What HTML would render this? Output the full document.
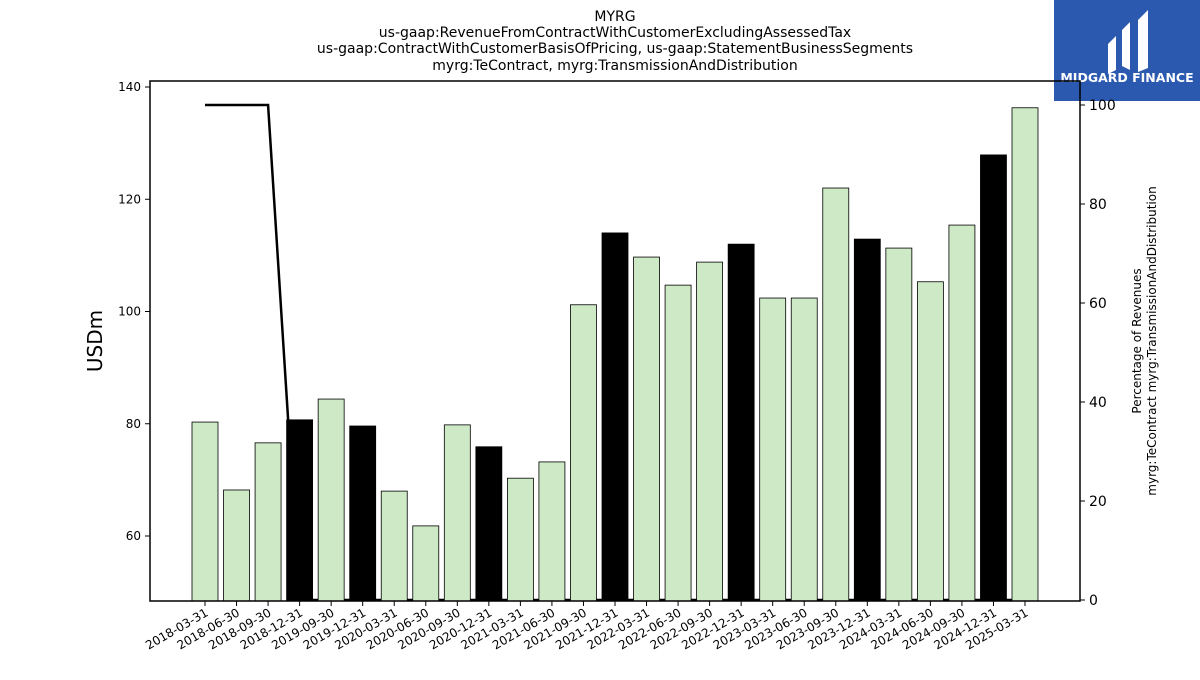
<!DOCTYPE html>
<html><head><meta charset="utf-8">
<style>
body{margin:0;background:#fff;font-family:"Liberation Sans","DejaVu Sans",sans-serif;}
svg text{font-family:"DejaVu Sans","Liberation Sans",sans-serif;}
</style></head>
<body>
<svg id="chart" width="1200" height="675" xmlns="http://www.w3.org/2000/svg">
<g font-size="14" text-anchor="middle" fill="#000">
<text x="615" y="21">MYRG</text>
<text x="615" y="37">us-gaap:RevenueFromContractWithCustomerExcludingAssessedTax</text>
<text x="615" y="53">us-gaap:ContractWithCustomerBasisOfPricing, us-gaap:StatementBusinessSegments</text>
<text x="615" y="70">myrg:TeContract, myrg:TransmissionAndDistribution</text>
</g>
<g>
<rect x="1054" y="0" width="146" height="101" fill="#2b59b0"/>
<path d="M1108,44 L1116,36 L1116,70 L1108,74 Z M1122,30 L1130,22 L1130,70 L1122,66 Z M1138,20 L1148,10 L1148,68 L1138,72 Z" fill="#fff"/>
<text x="1127" y="82" font-size="12.5" font-weight="bold" fill="#fff" text-anchor="middle">MIDGARD FINANCE</text>
</g>
<g id="plot"></g>
</svg>
<script>
const categories=["2018-03-31","2018-06-30","2018-09-30","2018-12-31","2019-09-30","2019-12-31","2020-03-31","2020-06-30","2020-09-30","2020-12-31","2021-03-31","2021-06-30","2021-09-30","2021-12-31","2022-03-31","2022-06-30","2022-09-30","2022-12-31","2023-03-31","2023-06-30","2023-09-30","2023-12-31","2024-03-31","2024-06-30","2024-09-30","2024-12-31","2025-03-31"];
const revenue=[80.3,68.2,76.6,80.7,84.4,79.6,68.0,61.8,79.8,75.9,70.3,73.2,101.2,114.0,109.7,104.7,108.8,112.0,102.4,102.4,122.0,112.9,111.3,105.3,115.4,127.9,136.3];
const percentage=[100,100,100,0,0,0,0,0,0,0,0,0,0,0,0,0,0,0,0,0,0,0,0,0,0,0,0];
const leftTicks=[60,80,100,120,140];
const rightTicks=[0,20,40,60,80,100];
const NS="http://www.w3.org/2000/svg";
const g=document.getElementById('plot');
const L=150,R=1080,T=81,B=601;
const yL=v=>536-(v-60)*(449/80);
const yR=v=>600-v*4.95;
const xC=i=>205+i*(820/(categories.length-1));
function el(t,a,p){const e=document.createElementNS(NS,t);for(const k in a)e.setAttribute(k,a[k]);(p||g).appendChild(e);return e;}
// line (behind bars)
let d=percentage.map((v,i)=>(i?'L':'M')+xC(i)+','+yR(v)).join(' ');
const ln=el('path',{d:d,fill:'none',stroke:'#000','stroke-width':2.5});


revenue.forEach((v,i)=>{
  const y=yL(v);
  const b=el('rect',{x:xC(i)-13,y:y,width:26,height:B-y,fill:categories[i].endsWith('12-31')?'#000':'#cde9c5',stroke:'#000','stroke-width':0.8});
  
  
  el('line',{x1:xC(i),x2:xC(i),y1:B,y2:B+5,stroke:'#000'});
  const t=el('text',{x:0,y:0,'font-size':12,'text-anchor':'end',transform:`translate(${xC(i)+4},${B+14}) rotate(-30)`});
  t.textContent=categories[i];
  
  
});
const fr=el('rect',{x:L,y:T,width:R-L,height:B-T,fill:'none',stroke:'#000','stroke-width':1.5});


leftTicks.forEach(v=>{
  el('line',{x1:L-5,x2:L,y1:yL(v),y2:yL(v),stroke:'#000'});
  const t=el('text',{x:L-9,y:yL(v)+4,'font-size':12,'text-anchor':'end'});t.textContent=v;
  
  
});
rightTicks.forEach(v=>{
  el('line',{x1:R,x2:R+5,y1:yR(v),y2:yR(v),stroke:'#000'});
  const t=el('text',{x:R+9,y:yR(v)+5,'font-size':14}); t.textContent=v;
  
  
});
const yt=el('text',{x:0,y:0,'font-size':20,'text-anchor':'middle',transform:'translate(102,341) rotate(-90)'});yt.textContent='USDm';


const rt=el('text',{x:0,y:0,'font-size':12,'text-anchor':'middle',transform:'translate(1141,341) rotate(-90)'});


const s1=el('tspan',{x:0,dy:0},rt);s1.textContent='Percentage of Revenues';
const s2=el('tspan',{x:0,dy:15},rt);s2.textContent='myrg:TeContract myrg:TransmissionAndDistribution';
</script>
</body></html>
